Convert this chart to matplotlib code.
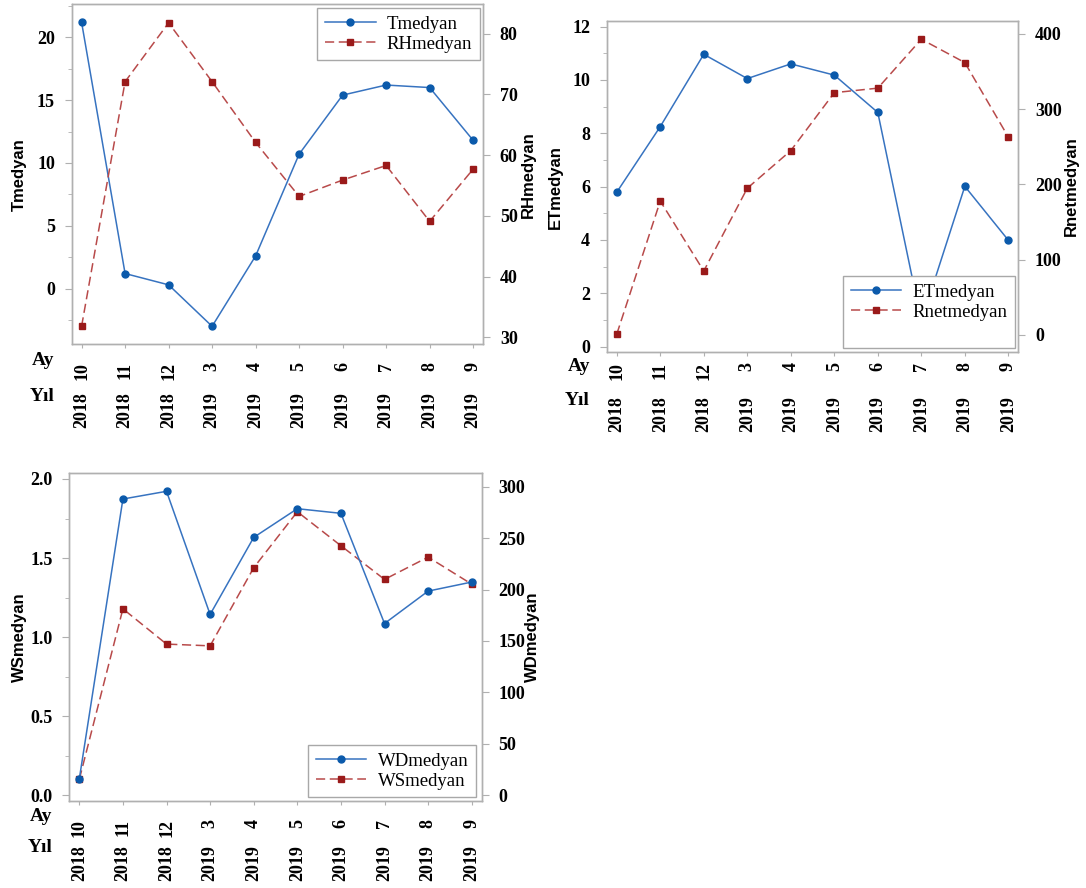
import numpy
import matplotlib
matplotlib.use('Agg')
import matplotlib.pyplot as plt
from matplotlib.ticker import MultipleLocator
from matplotlib.transforms import offset_copy

# month / year of each median value
ay = ['10', '11', '12', '3', '4', '5', '6', '7', '8', '9']
yil = ['2018', '2018', '2018', '2019', '2019', '2019', '2019', '2019', '2019', '2019']

T_medyan = [21.2, 1.2, 0.3, -3.0, 2.6, 10.7, 15.4, 16.2, 16.0, 11.8]
RH_medyan = [31.8, 72.1, 81.8, 72.1, 62.1, 53.2, 55.9, 58.3, 49.1, 57.7]
ET_medyan = [5.79, 8.25, 10.96, 10.05, 10.6, 10.18, 8.78, 0.95, 6.01, 3.99]
Rnet_medyan = [1, 178, 85, 195, 245, 322, 328, 393, 362, 263]
WD_medyan = [16.0, 288.0, 295.5, 175.8, 250.7, 278.6, 274.1, 167.0, 198.5, 207.3]
WS_medyan = [0.101, 1.179, 0.956, 0.945, 1.439, 1.793, 1.578, 1.365, 1.506, 1.335]

serif = 'Liberation Serif'
sans = 'Liberation Sans'
blue_line, blue_mark = '#3773c0', '#0b5aab'
red_line, red_mark = '#b84a4a', '#9a1a1a'
grey = '#b0b0b0'

fig = plt.figure(figsize=(10.86, 8.88), dpi=100)
x = numpy.arange(len(ay))


def panel(rect, left_vals, right_vals, left_name, right_name, left_lim, right_lim,
          left_major, left_minor, right_major, left_series_first, legend_loc, legend_anchor,
          tick_pad, year_off, ay_off, yil_off, label_off, blank_row=False):
    ax = fig.add_axes(rect)
    ax2 = ax.twinx()

    # blue solid series, red dashed series
    if left_series_first:
        blue_ax, red_ax = ax, ax2
        blue_vals, red_vals = left_vals, right_vals
        blue_name, red_name = left_name, right_name
    else:
        blue_ax, red_ax = ax2, ax
        blue_vals, red_vals = right_vals, left_vals
        blue_name, red_name = right_name, left_name

    hb, = blue_ax.plot(x, blue_vals, '-', color=blue_line, lw=1.1, marker='o', ms=5,
                       mfc=blue_mark, mec=blue_mark, label=blue_name)
    hr, = red_ax.plot(x, red_vals, '--', color=red_line, lw=1.1, dashes=(6, 3), marker='s', ms=5,
                      mfc=red_mark, mec=red_mark, label=red_name)

    ax.set_xlim(-0.23, 9.23)
    ax.set_ylim(*left_lim)
    ax2.set_ylim(*right_lim)
    ax.yaxis.set_major_locator(MultipleLocator(left_major))
    ax.yaxis.set_minor_locator(MultipleLocator(left_minor))
    ax2.yaxis.set_major_locator(MultipleLocator(right_major))

    for a in (ax, ax2):
        for s in a.spines.values():
            s.set_color(grey)
            s.set_linewidth(1.0)
    ax.tick_params(axis='y', which='major', length=5, color=grey, pad=7, labelsize=13)
    ax.tick_params(axis='y', which='minor', length=3, color=grey)
    ax2.tick_params(axis='y', length=5, color=grey, pad=7, labelsize=13)
    ax.tick_params(axis='x', length=3, color=grey, pad=tick_pad, labelsize=13)
    for lab in ax.get_yticklabels() + ax2.get_yticklabels():
        lab.set_fontfamily(serif)
        lab.set_fontweight('bold')

    ax.set_xticks(x)
    ax.set_xticklabels(ay, rotation=90, fontfamily=serif, fontweight='bold', va='top')

    # year row under the month row
    ytrans = offset_copy(ax.get_xaxis_transform(), fig=fig, y=-year_off, units='dots')
    for i, yr in enumerate(yil):
        ax.text(i, 0, yr, transform=ytrans, rotation=90, ha='center', va='top',
                fontfamily=serif, fontweight='bold', fontsize=13)
    ax.text(0, 0, 'Ay', transform=offset_copy(ax.transAxes, fig=fig, x=-17, y=-ay_off, units='dots'),
            ha='right', va='center', fontfamily=serif, fontweight='bold', fontsize=14)
    ax.text(0, 0, 'Y\u0131l', transform=offset_copy(ax.transAxes, fig=fig, x=-17, y=-yil_off, units='dots'),
            ha='right', va='center', fontfamily=serif, fontweight='bold', fontsize=14)

    ax.text(0, 0.5, left_name, transform=offset_copy(ax.transAxes, fig=fig, x=-label_off[0], units='dots'),
            rotation=90, ha='center', va='center', fontfamily=sans, fontweight='bold', fontsize=12)
    ax.text(1, 0.5, right_name, transform=offset_copy(ax.transAxes, fig=fig, x=label_off[1], units='dots'),
            rotation=90, ha='center', va='center', fontfamily=sans, fontweight='bold', fontsize=12)

    handles, names = [hb, hr], [blue_name, red_name]
    if blank_row:
        handles.append(plt.Line2D([], [], lw=0))
        names.append(' ')
    leg = ax2.legend(handles, names, loc=legend_loc, bbox_to_anchor=legend_anchor,
                     borderaxespad=0, fancybox=False, edgecolor='#a8a8a8', framealpha=1,
                     prop={'family': serif, 'size': 13.5}, handlelength=2.7, handletextpad=0.6,
                     labelspacing=0.15, borderpad=0.4)
    leg.get_frame().set_linewidth(1.0)
    return ax, ax2


panel([0.0659, 0.6123, 0.379, 0.3832], T_medyan, RH_medyan, 'Tmedyan', 'RHmedyan',
      (-4.43, 22.65), (28.85, 84.9), 5, 2.5, 10, True,
      'upper right', (0.992, 0.987), 10, 48, 16, 52, (52, 45))

panel([0.5587, 0.6033, 0.379, 0.3731], ET_medyan, Rnet_medyan, 'ETmedyan', 'Rnetmedyan',
      (-0.21, 12.21), (-23, 417.3), 2, 1, 100, True,
      'lower right', (0.992, 0.012), 4, 44, 14, 48, (51, 53), blank_row=True)

panel([0.0638, 0.098, 0.3798, 0.369], WS_medyan, WD_medyan, 'WSmedyan', 'WDmedyan',
      (-0.036, 2.036), (-5.5, 313), 0.5, 0.25, 50, False,
      'lower right', (0.986, 0.011), 10, 44, 16, 47, (50, 51))

plt.savefig('out.png', dpi=100)
plt.close()
